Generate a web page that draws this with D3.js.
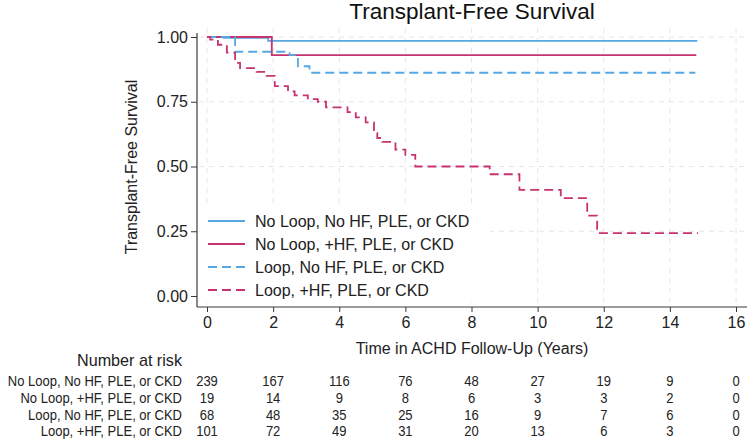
<!DOCTYPE html>
<html>
<head>
<meta charset="utf-8">
<script src="https://cdn.jsdelivr.net/npm/d3@7"></script>
<style>
  html, body { margin: 0; padding: 0; background: #fff; }
  svg { display: block; font-family: "Liberation Sans", Arial, sans-serif; }
</style>
</head>
<body>
<svg id="chart" width="747" height="439"></svg>
<script>
// ---------- data ----------
const groups = [
  "No Loop, No HF, PLE, or CKD",
  "No Loop, +HF, PLE, or CKD",
  "Loop, No HF, PLE, or CKD",
  "Loop, +HF, PLE, or CKD"
];
// step points: [time (years), survival]
const noLoopNoHF = [[0,1.0],[0.5,0.997],[1.85,0.985],[14.83,0.985]];
const noLoopHF   = [[0,1.0],[1.96,0.93],[14.8,0.93]];
const loopNoHF   = [[0,1.0],[0.85,0.943],[2.5,0.93],[2.75,0.887],[3.1,0.862],[14.77,0.862]];
const loopHF     = [[0,1.0],[0.1,0.99],[0.33,0.97],[0.6,0.94],[0.85,0.90],[1.0,0.88],
  [1.5,0.865],[1.8,0.85],[2.05,0.81],[2.45,0.79],[2.65,0.775],[3.05,0.76],[3.35,0.75],
  [3.6,0.728],[4.25,0.71],[4.5,0.69],[4.8,0.67],[5.05,0.63],[5.15,0.61],[5.3,0.595],
  [5.7,0.565],[6.0,0.545],[6.3,0.50],[8.55,0.47],[9.45,0.41],[10.7,0.378],[11.5,0.31],
  [11.8,0.243],[14.85,0.243]];
const seriesData = [noLoopNoHF, noLoopHF, loopNoHF, loopHF];
const seriesColor = ["#56a7e2", "#c6336f", "#56a7e2", "#c6336f"];
const seriesDash  = [null, null, "9,5", "9,5"];

const xTicks = [0,2,4,6,8,10,12,14,16];
const yTicks = [0,0.25,0.5,0.75,1.0];
const atRiskTimes = [0,2,4,6,8,10,12,14,16];
const atRisk = [
  [239,167,116,76,48,27,19,9,0],
  [19,14,9,8,6,3,3,2,0],
  [68,48,35,25,16,9,7,6,0],
  [101,72,49,31,20,13,6,3,0]
];

// ---------- layout ----------
const svg = d3.select("#chart");
const x = d3.scaleLinear().domain([0,16]).range([207,736]);
const y = d3.scaleLinear().domain([0,1]).range([296,37]);
const axisColor = "#3a3a3a";
const squeeze = 0.84;

// title
svg.append("text").attr("x",472).attr("y",19).attr("text-anchor","middle")
  .attr("font-size",22.5).attr("fill","#111").text("Transplant-Free Survival");

// grid
const grid = svg.append("g");
grid.selectAll("line.v").data(xTicks).join("line")
  .attr("x1",d=>x(d)).attr("x2",d=>x(d)).attr("y1",28).attr("y2",305)
  .attr("stroke","#e6e6e6").attr("stroke-width",1).attr("stroke-dasharray","5,5");
grid.selectAll("line.h").data(yTicks.filter(d=>d>0)).join("line")
  .attr("x1",199).attr("x2",747).attr("y1",d=>y(d)).attr("y2",d=>y(d))
  .attr("stroke","#e6e6e6").attr("stroke-width",1).attr("stroke-dasharray","5,5");

// axes
const gx = svg.append("g").attr("transform","translate(0,307)")
  .call(d3.axisBottom(x).tickValues(xTicks).tickSize(5).tickPadding(5).tickFormat(d3.format("d")));
gx.select(".domain").remove();
gx.selectAll("line").attr("stroke",axisColor);
gx.selectAll("text").attr("font-size",16).attr("fill","#222").attr("font-family","Liberation Sans, Arial, sans-serif");
svg.append("line").attr("x1",197).attr("x2",747).attr("y1",307).attr("y2",307).attr("stroke",axisColor).attr("stroke-width",1.2);

const gy = svg.append("g").attr("transform","translate(197,0)")
  .call(d3.axisLeft(y).tickValues(yTicks).tickSize(6).tickPadding(3).tickFormat(d3.format(".2f")));
gy.select(".domain").remove();
gy.selectAll("line").attr("stroke",axisColor);
gy.selectAll("text").attr("font-size",16).attr("fill","#222").attr("font-family","Liberation Sans, Arial, sans-serif");
svg.append("line").attr("x1",197).attr("x2",197).attr("y1",33).attr("y2",307).attr("stroke",axisColor).attr("stroke-width",1.2);

// axis titles
svg.append("text").attr("transform","translate(137,167) rotate(-90)").attr("text-anchor","middle")
  .attr("font-size",16).attr("fill","#222").text("Transplant-Free Survival");
svg.append("text").attr("x",472).attr("y",354).attr("text-anchor","middle")
  .attr("font-size",16).attr("fill","#222").text("Time in ACHD Follow-Up (Years)");

// curves
const line = d3.line().x(d=>x(d[0])).y(d=>y(d[1])).curve(d3.curveStepAfter);
seriesData.forEach((s,i)=>{
  svg.append("path").datum(s).attr("d",line).attr("fill","none")
    .attr("stroke",seriesColor[i]).attr("stroke-width",1.8)
    .attr("stroke-dasharray",seriesDash[i]);
});

// legend
const leg = svg.append("g");
leg.append("rect").attr("x",200).attr("y",208).attr("width",290).attr("height",94).attr("fill","#fff");
const legY = [221,244,267,290];
groups.forEach((g,i)=>{
  leg.append("line").attr("x1",208).attr("x2",245).attr("y1",legY[i]).attr("y2",legY[i])
    .attr("stroke",seriesColor[i]).attr("stroke-width",1.8).attr("stroke-dasharray",seriesDash[i]);
  leg.append("text").attr("x",255).attr("y",legY[i]+6).attr("font-size",16).attr("fill","#222").text(g);
});

// number at risk table (condensed text)
function narrowText(px, py, anchor, size, txt, sq) {
  svg.append("text").attr("transform",`translate(${px},${py}) scale(${sq},1)`)
    .attr("text-anchor",anchor).attr("font-size",size).attr("fill","#222").text(txt);
}
narrowText(182, 366, "end", 17, "Number at risk", 0.95);
const rowY = [381,398,415,431];
groups.forEach((g,i)=>{
  narrowText(182, rowY[i]+5, "end", 15.5, g, squeeze);
  atRisk[i].forEach((v,j)=> narrowText(x(atRiskTimes[j]), rowY[i]+5, "middle", 15.5, v, squeeze));
});
</script>
</body>
</html>
